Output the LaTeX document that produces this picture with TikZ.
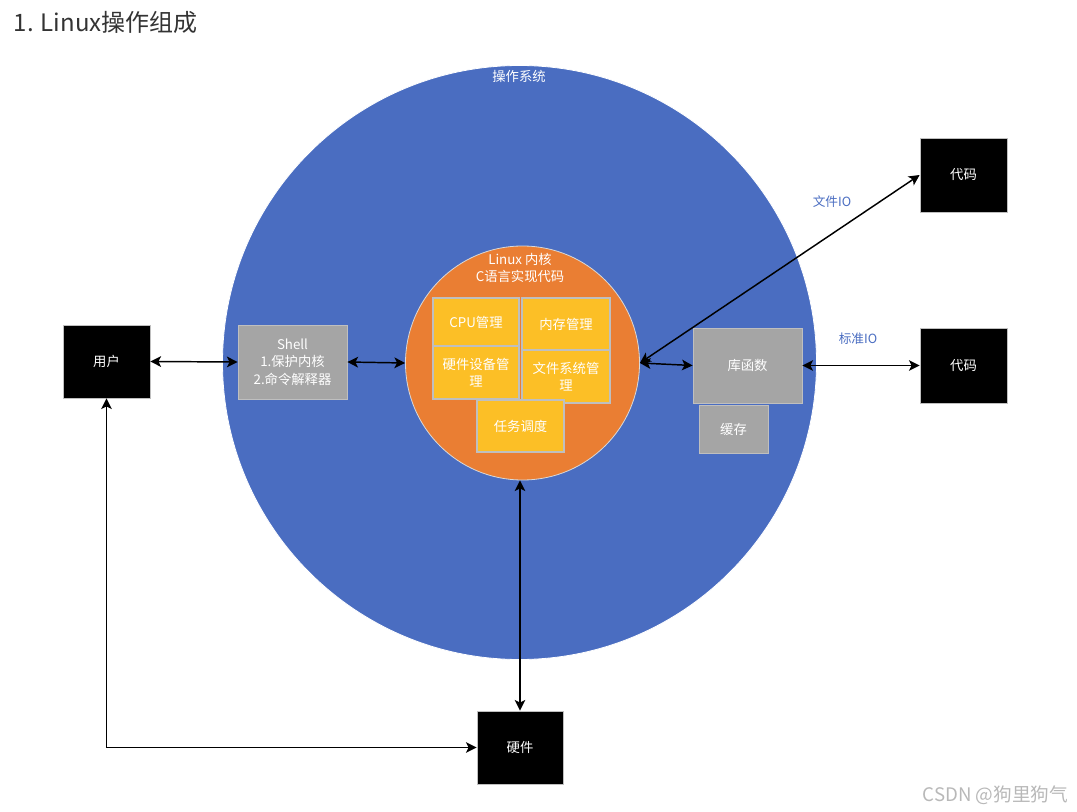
\documentclass[tikz,border=0pt]{standalone}
\usepackage{fontspec}
\setmainfont{Noto Sans CJK SC}
\usepackage{tikz}
\usetikzlibrary{arrows.meta}
\definecolor{osblue}{HTML}{4A6DC1}
\definecolor{kernorange}{HTML}{EA7E33}
\definecolor{partyellow}{HTML}{FCBF26}
\definecolor{boxgray}{HTML}{A5A5A5}
\definecolor{edgegray}{HTML}{BFBFBF}
\tikzset{
  blackbox/.style={draw=edgegray, line width=0.6pt, fill=black, text=white, font=\fontsize{10}{12}\selectfont},
  graybox/.style={draw=edgegray, line width=0.6pt, fill=boxgray, text=white, font=\fontsize{10}{13}\selectfont, align=center},
  partbox/.style={draw=edgegray, line width=0.8pt, fill=partyellow, text=white, font=\fontsize{10}{13}\selectfont, align=center},
  link/.style={line width=1.1pt, {Stealth[length=8pt,width=8pt,inset=2pt]}-{Stealth[length=8pt,width=8pt,inset=2pt]}},
  iolabel/.style={text=osblue, font=\fontsize{9.5}{11}\selectfont}
}

\begin{document}
\begin{tikzpicture}[x=0.75pt, y=-0.75pt]
			%%%%% START %%%%%
			\useasboundingbox (0, 0) rectangle (1077, 812);
			
			\node[anchor=west, text=black!80, font=\fontsize{18}{20}\selectfont] (title) at (9, 22) {1. Linux操作组成};
			
			\node[circle, fill=osblue, draw=white, line width=0.6pt, minimum size=445.5pt, inner sep=0pt] (os) at (519.5, 362.5) {};
			\node[text=white, font=\fontsize{10}{12}\selectfont] (oslabel) at (519, 76) {操作系统};
			
			\node[circle, fill=kernorange, draw=white!85!black, line width=0.6pt, minimum size=175.5pt, inner sep=0pt] (kernel) at (522.5, 363) {};
			\node[text=white, align=center, font=\fontsize{10}{12.5}\selectfont] (kernlabel) at (520, 268) {Linux 内核\\C语言实现代码};
			
			\node[partbox, minimum width=64.5pt, minimum height=36pt] (cpu) at (476, 322) {CPU管理};
			\node[partbox, minimum width=66pt, minimum height=39pt] (mem) at (566, 324) {内存管理};
			\node[partbox, minimum width=64.5pt, minimum height=39.75pt, inner sep=1pt] (dev) at (476, 372.5) {硬件设备管\\理};
			\node[partbox, minimum width=66pt, minimum height=39.75pt, inner sep=1pt] (fs) at (566, 376.5) {文件系统管\\理};
			\node[partbox, minimum width=65.25pt, minimum height=39pt] (sched) at (520.5, 426) {任务调度};
			
			\node[blackbox, minimum width=65.25pt, minimum height=54.75pt] (user) at (106.5, 361.5) {用户};
			\node[graybox, minimum width=81.75pt, minimum height=55.5pt] (shell) at (292.5, 362) {Shell\\1.保护内核\\2.命令解释器};
			
			\node[graybox, minimum width=81.75pt, minimum height=56.25pt] (lib) at (747.5, 365.5) {库函数};
			\node[graybox, minimum width=51.75pt, minimum height=36pt] (cache) at (733.5, 429) {缓存};
			
			\node[blackbox, minimum width=65.25pt, minimum height=55.5pt] (code1) at (963.5, 175) {代码};
			\node[blackbox, minimum width=65.25pt, minimum height=56.25pt] (code2) at (963.5, 365.5) {代码};
			\node[blackbox, minimum width=64.5pt, minimum height=54.75pt] (hw) at (520, 747.5) {硬件};
			
			\node[iolabel] (fileio) at (832, 202) {文件IO};
			\node[iolabel] (stdio) at (858, 339) {标准IO};
			
			\draw[link] (user.east) -- (shell.west);
			\draw[link] (shell.east) -- (kernel.west);
			\draw[link] (kernel.east) -- (lib.west);
			\draw[link] (kernel.east) -- (code1.west);
			\draw[link] (lib.east) -- (code2.west);
			\draw[link] (hw.north |- kernel.south) -- (hw.north);
			\draw[link] (user.south) |- (hw.west);
			
			\node[anchor=east, text=black!28, font=\fontsize{14}{16}\selectfont] (mark) at (1073, 795) {CSDN @狗里狗气};
			
			%%%%% END %%%%%
\end{tikzpicture}
\end{document}
